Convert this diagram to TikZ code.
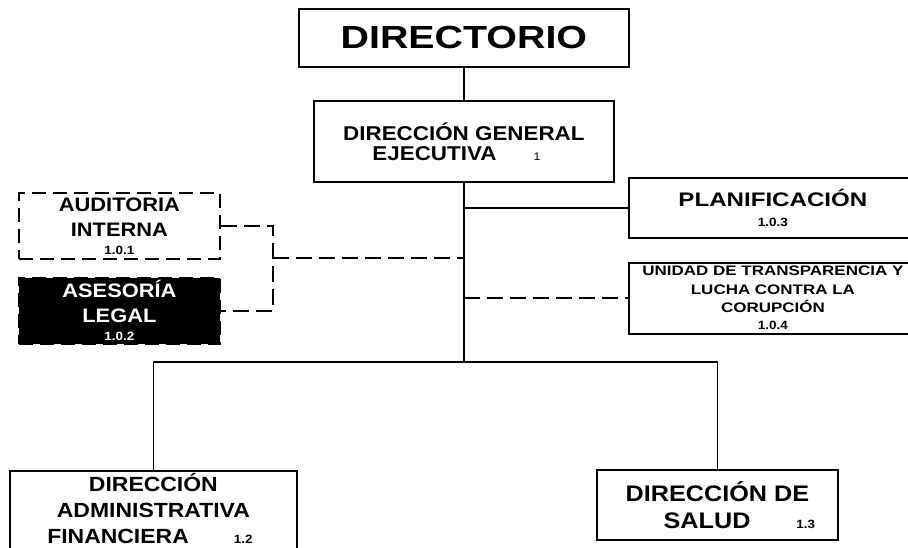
\documentclass[tikz,border=0pt]{standalone}
\usepackage{fontspec}
\setmainfont[FakeStretch=1.12]{Liberation Sans}
\newfontfamily\widefont[FakeStretch=1.23]{Liberation Sans}
\usetikzlibrary{positioning}
\newcommand{\fsz}[2]{\fontsize{#1}{#2}\selectfont}

\begin{document}
\begin{tikzpicture}[x=1pt, y=-1pt,
    box/.style={draw, line width=1.8pt, inner sep=0pt, align=center, anchor=north west},
    dbox/.style={box, dash pattern=on 14pt off 7pt},
    link/.style={line width=1.6pt},
    dlink/.style={link, dash pattern=on 16pt off 7pt}
  ]
  \path[use as bounding box, fill=white] (0,0) rectangle (908,548);

  % top of the chart
  \node[box, minimum width=330pt, minimum height=58pt, font=\widefont\bfseries\fsz{32}{36}] (dir) at (298,8) {DIRECTORIO};
  \node[box, minimum width=300pt, minimum height=81pt, font=\bfseries\fsz{20}{20}] (dge) at (313,100)
    {DIRECCIÓN GENERAL\\EJECUTIVA\hspace{37pt}{\mdseries\fsz{11}{12}1}\kern15pt};

  % staff units
  \node[dbox, minimum width=201pt, minimum height=66pt, font=\bfseries\fsz{19.5}{25}] (aud) at (18,192)
    {AUDITORIA\\INTERNA\\[-7pt]{\fsz{12}{12}1.0.1}};
  \node[dbox, fill=black, text=white, minimum width=201pt, minimum height=66pt, font=\bfseries\fsz{19.5}{25}, below=17pt of aud] (ase)
    {ASESORÍA\\LEGAL\\[-7pt]{\fsz{12}{12}1.0.2}};
  \node[box, minimum width=288pt, minimum height=60pt, font=\widefont\bfseries\fsz{19.6}{20}] (plan) at (628,177)
    {PLANIFICACIÓN\\{\rmfamily\bfseries\fsz{12}{12}1.0.3}};
  \node[box, minimum width=288pt, minimum height=71pt, font=\widefont\bfseries\fsz{13.8}{18.5}, below=23pt of plan] (uni)
    {UNIDAD DE TRANSPARENCIA Y\\LUCHA CONTRA LA\\CORUPCIÓN\\[-1.5pt]{\rmfamily\bfseries\fsz{12}{12}1.0.4}};

  % line units
  \node[box, minimum width=287pt, minimum height=100pt, text depth=25pt, font=\bfseries\fsz{20.5}{26}] (daf) at (9,470)
    {DIRECCIÓN\\ADMINISTRATIVA\\FINANCIERA\hspace{45pt}{\fsz{12}{12}1.2}\kern7pt};
  \node[box, minimum width=241pt, minimum height=70pt, font=\bfseries\fsz{22.5}{27}] (sal) at (596,469)
    {DIRECCIÓN DE\\\kern44pt SALUD\hspace{46pt}{\fsz{12}{12}1.3}};

  % connectors
  \coordinate (fork) at (dge.south |- 0,362);
  \coordinate (brk) at (273,258);
  \draw[link] (dir) -- (dge);
  \draw[link] (dge.south) -- (fork);
  \draw[link] (plan.west -| dge.south) -- (plan.west);
  \draw[dlink] (uni.west -| dge.south) -- (uni.west);
  \draw[dlink] (aud.east) -| (brk) |- (ase.east);
  \draw[dlink] (brk) -- (brk -| dge.south);
  \draw[link] (daf.north) |- (fork) -| (sal.north);
\end{tikzpicture}
\end{document}
